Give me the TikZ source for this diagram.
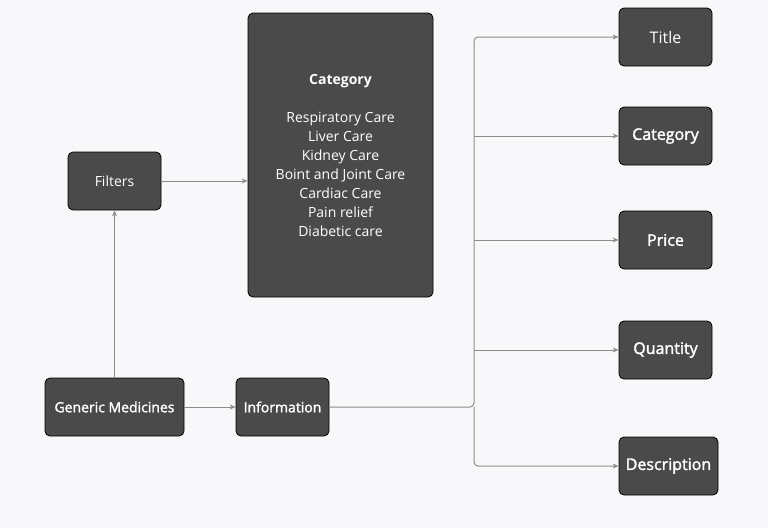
\documentclass[tikz,border=0pt]{standalone}
\usepackage{fontspec}
\setmainfont{Open Sans}
\newfontfamily\medfont[FakeBold=1.8]{Open Sans}
\usetikzlibrary{arrows.meta}
\definecolor{boxgray}{HTML}{4A4A4A}
\definecolor{linegray}{HTML}{8C8C8C}
\definecolor{paper}{HTML}{F8F8FA}
\tikzset{>={Stealth[length=6pt,width=5pt]}}

\begin{document}
\begin{tikzpicture}[x=1pt, y=-1pt,
  box/.style={draw=black, fill=boxgray, text=white, rounded corners=5pt, line width=0.8pt,
    minimum width=93pt, minimum height=58pt, inner sep=2pt, font=\fontsize{14}{19}\selectfont},
  field/.style={box, font=\fontsize{16}{19}\medfont},
  link/.style={draw=linegray, line width=1pt, ->, rounded corners=4pt}]
\fill[paper] (0,0) rectangle (768,528);
\node[box] (filters) at (114.5,181) {Filters};
\node[box, minimum width=185pt, minimum height=284pt, align=center] (catlist) at (340.5,155)
  {\textbf{Category}\\[19pt] Respiratory Care\\ Liver Care\\ Kidney Care\\ Boint and Joint Care\\ Cardiac Care\\ Pain relief\\ Diabetic care};
\node[box, minimum width=139pt, font=\fontsize{14}{19}\medfont] (generic) at (114.5,407) {Generic Medicines};
\node[box, font=\fontsize{14}{19}\medfont] (info) at (282.5,407) {Information};
\node[box, font=\fontsize{16}{19}\selectfont] (title) at (665.5,37) {Title};
\node[field] (category) at (665.5,136) {Category};
\node[field] (price) at (665.5,240) {Price};
\node[field] (quantity) at (665.5,350) {Quantity};
\node[field, minimum width=99pt] (descr) at (668.5,466) {Description};
\coordinate (trunk) at (474,407);
\draw[link] (generic.north) -- (filters.south);
\draw[link] (filters.east) -- (catlist.west |- filters.east);
\draw[link] (generic.east) -- (info.west);
\draw[link] (info.east) -- (trunk) -- (trunk |- title.west) -- (title.west);
\draw[link] (trunk) -- (trunk |- descr.west) -- (descr.west);
\draw[link] (trunk |- category.west) -- (category.west);
\draw[link] (trunk |- price.west) -- (price.west);
\draw[link] (trunk |- quantity.west) -- (quantity.west);
\end{tikzpicture}
\end{document}
